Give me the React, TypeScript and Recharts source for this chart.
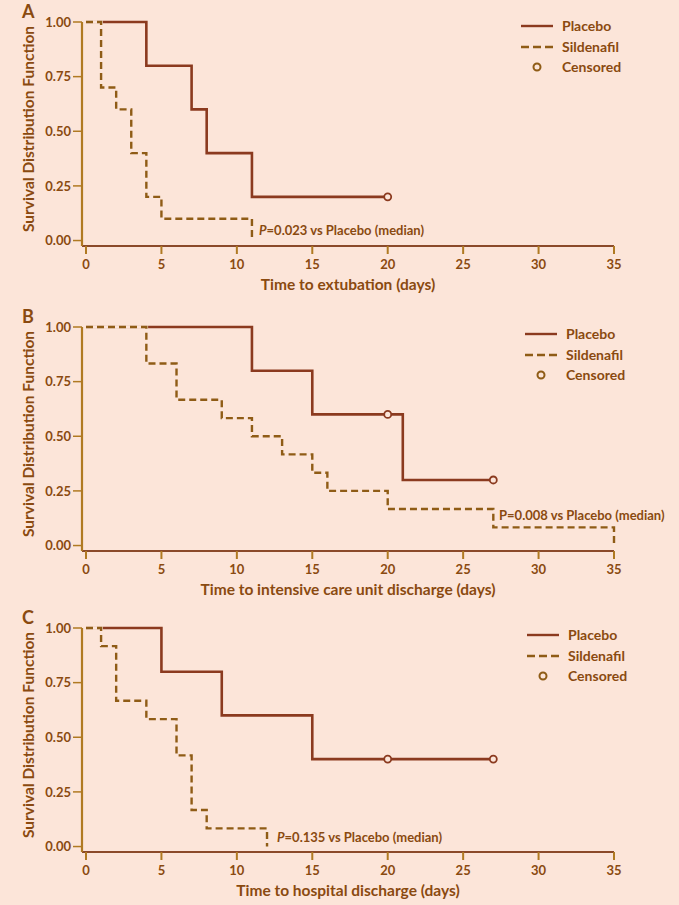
import React from 'react';
import { ComposedChart, Line, Scatter, XAxis, YAxis } from 'recharts';

const BG = '#fce5d9';
const PLACEBO_COLOR = '#8b3a1f';
const SILD_COLOR = '#8f5c16';
const TEXT_COLOR = '#8a4a10';
const XAXIS_COLOR = '#8b4a2a';
const YAXIS_COLOR = '#b07a22';
const FONT = 'Lato, "DejaVu Sans", sans-serif';

const xTicks = [0, 5, 10, 15, 20, 25, 30, 35];
const yTicks = [0, 0.25, 0.5, 0.75, 1];

// Panel A: time to extubation
const placeboA = [
  { t: 0, s: 1 }, { t: 4, s: 0.8 }, { t: 7, s: 0.6 }, { t: 8, s: 0.4 }, { t: 11, s: 0.2 }, { t: 20, s: 0.2 },
];
const sildenafilA = [
  { t: 0, s: 1 }, { t: 1, s: 0.7 }, { t: 2, s: 0.6 }, { t: 3, s: 0.4 }, { t: 4, s: 0.2 }, { t: 5, s: 0.1 }, { t: 11, s: 0 },
];
const censoredA = [{ t: 20, s: 0.2 }];

// Panel B: time to ICU discharge
const placeboB = [
  { t: 0, s: 1 }, { t: 11, s: 0.8 }, { t: 15, s: 0.6 }, { t: 21, s: 0.3 }, { t: 27, s: 0.3 },
];
const sildenafilB = [
  { t: 0, s: 1 }, { t: 4, s: 0.833 }, { t: 6, s: 0.667 }, { t: 9, s: 0.583 }, { t: 11, s: 0.5 },
  { t: 13, s: 0.417 }, { t: 15, s: 0.333 }, { t: 16, s: 0.25 }, { t: 20, s: 0.167 }, { t: 27, s: 0.083 }, { t: 35, s: 0 },
];
const censoredB = [{ t: 20, s: 0.6 }, { t: 27, s: 0.3 }];

// Panel C: time to hospital discharge
const placeboC = [
  { t: 0, s: 1 }, { t: 5, s: 0.8 }, { t: 9, s: 0.6 }, { t: 15, s: 0.4 }, { t: 27, s: 0.4 },
];
const sildenafilC = [
  { t: 0, s: 1 }, { t: 1, s: 0.917 }, { t: 2, s: 0.667 }, { t: 4, s: 0.583 }, { t: 6, s: 0.417 },
  { t: 7, s: 0.167 }, { t: 8, s: 0.083 }, { t: 12, s: 0 },
];
const censoredC = [{ t: 20, s: 0.4 }, { t: 27, s: 0.4 }];

const textStyle: React.CSSProperties = {
  position: 'absolute',
  fontFamily: FONT,
  fontWeight: 'bold',
  color: TEXT_COLOR,
  whiteSpace: 'nowrap',
  lineHeight: 1,
};

const CensorDot = (props: any) => {
  const { cx, cy } = props;
  return <circle cx={cx} cy={cy} r={3.5} fill={BG} stroke={PLACEBO_COLOR} strokeWidth={1.8} />;
};

const LegendBox = ({ top, left }: { top: number; left: number }) => (
  <div style={{ position: 'absolute', top, left, width: 120, height: 60 }}>
    <svg width={34} height={60} style={{ position: 'absolute', left: 0, top: 0 }}>
      <line x1={0} x2={32} y1={6} y2={6} stroke={PLACEBO_COLOR} strokeWidth={2.4} />
      <line x1={0} x2={32} y1={27} y2={27} stroke={SILD_COLOR} strokeWidth={2.6} strokeDasharray="8 4" />
      <circle cx={16} cy={47} r={3.5} fill={BG} stroke={SILD_COLOR} strokeWidth={2} />
    </svg>
    <div style={{ ...textStyle, left: 41, top: -1, fontSize: 14 }}>Placebo</div>
    <div style={{ ...textStyle, left: 41, top: 20, fontSize: 14 }}>Sildenafil</div>
    <div style={{ ...textStyle, left: 41, top: 40, fontSize: 14 }}>Censored</div>
  </div>
);

interface PanelProps {
  top: number;
  letter: string;
  xLabel: string;
  placebo: any[];
  sildenafil: any[];
  censored: any[];
  pValue: string;
  pItalic: boolean;
  pLeft: number;
  pTop: number;
}

const Panel = ({ top, letter, xLabel, placebo, sildenafil, censored, pValue, pItalic, pLeft, pTop }: PanelProps) => (
  <div style={{ position: 'absolute', left: 0, top, width: 679, height: 300 }}>
    <ComposedChart width={679} height={300} margin={{ top: 22, right: 65, bottom: 8, left: 32 }}>
      <XAxis
        type="number"
        dataKey="t"
        domain={[-0.265, 35]}
        ticks={xTicks}
        height={46}
        tickSize={8}
        tickMargin={6}
        axisLine={{ stroke: XAXIS_COLOR, strokeWidth: 2 }}
        tickLine={{ stroke: YAXIS_COLOR, strokeWidth: 2 }}
        tick={{ fill: TEXT_COLOR, fontSize: 13, fontWeight: 'bold', fontFamily: FONT }}
        label={{
          value: xLabel,
          position: 'insideBottom',
          offset: 2,
          fill: TEXT_COLOR,
          fontSize: 15.5,
          fontWeight: 'bold',
          fontFamily: FONT,
        }}
      />
      <YAxis
        type="number"
        dataKey="s"
        domain={[-0.025, 1]}
        ticks={yTicks}
        width={50}
        tickSize={9}
        tickMargin={2}
        tickFormatter={(v: number) => v.toFixed(2)}
        axisLine={{ stroke: YAXIS_COLOR, strokeWidth: 2.2 }}
        tickLine={{ stroke: YAXIS_COLOR, strokeWidth: 1.5 }}
        tick={{ fill: TEXT_COLOR, fontSize: 13, fontWeight: 'bold', fontFamily: FONT }}
      />
      <Line
        data={placebo}
        dataKey="s"
        type="stepAfter"
        stroke={PLACEBO_COLOR}
        strokeWidth={2.6}
        dot={false}
        activeDot={false}
        isAnimationActive={false}
      />
      <Line
        data={sildenafil}
        dataKey="s"
        type="stepAfter"
        stroke={BG}
        strokeWidth={3.5}
        dot={false}
        activeDot={false}
        isAnimationActive={false}
      />
      <Line
        data={sildenafil}
        dataKey="s"
        type="stepAfter"
        stroke={SILD_COLOR}
        strokeWidth={2.4}
        strokeDasharray="7 4"
        dot={false}
        activeDot={false}
        isAnimationActive={false}
      />
      <Scatter data={censored} dataKey="s" shape={CensorDot} isAnimationActive={false} />
    </ComposedChart>
    <div style={{ ...textStyle, left: 22, top: 2, fontSize: 18 }}>{letter}</div>
    <div
      style={{
        ...textStyle,
        fontSize: 15.5,
        left: 29,
        top: 129,
        transform: 'translate(-50%, -50%) rotate(-90deg)',
      }}
    >
      Survival Distribution Function
    </div>
    <div style={{ ...textStyle, left: pLeft, top: pTop, fontSize: 13 }}>
      <span style={{ fontStyle: pItalic ? 'italic' : 'normal' }}>P</span>
      {pValue}
    </div>
  </div>
);

export default function App() {
  return (
    <div style={{ position: 'absolute', left: 0, top: 0, width: 679, height: 905, background: BG, overflow: 'hidden' }}>
      <Panel
        top={0}
        letter="A"
        xLabel="Time to extubation (days)"
        placebo={placeboA}
        sildenafil={sildenafilA}
        censored={censoredA}
        pValue="=0.023 vs Placebo (median)"
        pItalic
        pLeft={259}
        pTop={224}
      />
      <LegendBox top={20} left={521} />
      <Panel
        top={305}
        letter="B"
        xLabel="Time to intensive care unit discharge (days)"
        placebo={placeboB}
        sildenafil={sildenafilB}
        censored={censoredB}
        pValue="=0.008 vs Placebo (median)"
        pItalic={false}
        pLeft={499}
        pTop={204}
      />
      <LegendBox top={328} left={525} />
      <Panel
        top={606}
        letter="C"
        xLabel="Time to hospital discharge (days)"
        placebo={placeboC}
        sildenafil={sildenafilC}
        censored={censoredC}
        pValue="=0.135 vs Placebo (median)"
        pItalic
        pLeft={277}
        pTop={225}
      />
      <LegendBox top={629} left={527} />
    </div>
  );
}
